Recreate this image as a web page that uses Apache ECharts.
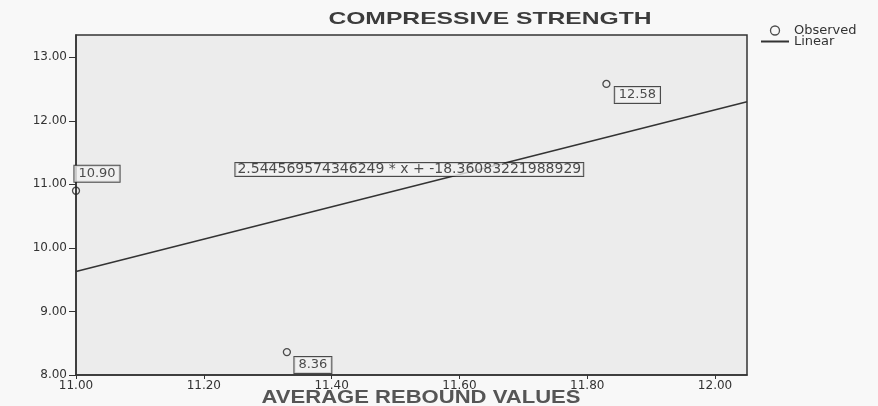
<!DOCTYPE html>
<html>
<head>
<meta charset="utf-8">
<script src="https://cdn.jsdelivr.net/npm/echarts@6/dist/echarts.min.js"></script>
<style>
html,body{margin:0;padding:0;background:#f8f8f8;}
#c{width:878px;height:406px;}
</style>
</head>
<body>
<div id="c"></div>
<script>
// Observed points
const obsX = [11.00, 11.33, 11.83];
const obsY = [10.90, 8.36, 12.58];
const obsLabels = ['10.90', '8.36', '12.58'];
// Linear fit line (endpoints)
const fitX = [11.00, 12.05];
const fitY = [9.63, 12.30];
// Equation annotation, anchored on the fit line
const equationX = [11.52];
const equationY = [10.95];
const equationText = '2.544569574346249 * x + -18.36083221988929';
// Texts and axis ticks
const chartTitle = 'COMPRESSIVE STRENGTH';
const xAxisTitle = 'AVERAGE REBOUND VALUES';
const xTicks = [11.00, 11.20, 11.40, 11.60, 11.80, 12.00];
const yTicks = [8, 9, 10, 11, 12, 13];

const FONT = 'DejaVu Sans, Arial, sans-serif';
const labelOffsets = [[21, -17], [26, 13], [31, 11]];
const boxLabel = {
  show: true,
  position: 'inside',
  fontFamily: FONT,
  fontSize: 13,
  lineHeight: 13,
  color: '#222',
  backgroundColor: '#f2f2f2',
  borderColor: '#222',
  borderWidth: 1,
  padding: [2, 4, 1, 4]
};

const obsData = obsX.map((x, i) => ({
  value: [x, obsY[i]],
  label: Object.assign({}, boxLabel, { formatter: obsLabels[i], offset: labelOffsets[i] })
}));
const fitData = fitX.map((x, i) => [x, fitY[i]]);
const eqData = equationX.map((x, i) => ({
  value: [x, equationY[i]],
  label: Object.assign({}, boxLabel, { formatter: equationText, fontSize: 14, lineHeight: 12, offset: [1, -18], padding: [1, 2, 0, 2] })
}));

const chart = echarts.init(document.getElementById('c'));
chart.setOption({
  animation: false,
  backgroundColor: '#f8f8f8',
  textStyle: { fontFamily: FONT },
  graphic: [
    {
      type: 'text', x: 490, y: 19, scaleX: 1.45,
      style: {
        text: chartTitle, fill: '#3c3c3c',
        font: 'bold 17px "Liberation Sans", Arial, sans-serif',
        textAlign: 'center', textVerticalAlign: 'middle', align: 'center', verticalAlign: 'middle'
      }
    },
    {
      type: 'text', x: 421, y: 398, scaleX: 1.26,
      style: {
        text: xAxisTitle, fill: '#555',
        font: 'bold 17.5px "Liberation Sans", Arial, sans-serif',
        textAlign: 'center', textVerticalAlign: 'middle', align: 'center', verticalAlign: 'middle'
      }
    }
  ],
  legend: {
    orient: 'vertical',
    left: 755, top: 19,
    itemGap: -2,
    itemWidth: 28, itemHeight: 9,
    textStyle: { fontSize: 13, color: '#333', fontFamily: FONT },
    data: [
      { name: 'Observed', icon: 'circle', itemStyle: { color: 'transparent', borderColor: '#222', borderWidth: 1.3 } },
      { name: 'Linear', itemStyle: { opacity: 0 } }
    ]
  },
  grid: {
    left: 76, right: 131, top: 35, bottom: 31,
    outerBoundsMode: 'none', containLabel: false,
    show: true, backgroundColor: '#ececec', borderColor: '#333', borderWidth: 1.5
  },
  xAxis: {
    type: 'value', min: 11, max: 12.05,
    axisLine: { show: true, lineStyle: { color: '#333', width: 1.5 } },
    axisTick: { show: true, length: 4, customValues: xTicks, lineStyle: { color: '#333' } },
    axisLabel: { customValues: xTicks, formatter: v => v.toFixed(2), fontSize: 12, color: '#333', margin: 5 },
    splitLine: { show: false }
  },
  yAxis: {
    type: 'value', min: 8, max: 13.35,
    axisLine: { show: true, lineStyle: { color: '#333', width: 1.5 } },
    axisTick: { show: true, length: 7, customValues: yTicks, lineStyle: { color: '#333' } },
    axisLabel: { customValues: yTicks, formatter: v => v.toFixed(2), fontSize: 12, color: '#333', margin: 9 },
    splitLine: { show: false }
  },
  series: [
    {
      name: 'Linear', type: 'line', data: fitData, symbol: 'none',
      lineStyle: { color: '#333', width: 1.5 }, itemStyle: { color: '#333' }, z: 2
    },
    {
      name: 'Observed', type: 'scatter', data: obsData, symbol: 'circle', symbolSize: 7,
      itemStyle: { color: 'transparent', borderColor: '#222', borderWidth: 1.3 }, z: 3
    },
    {
      name: 'Equation', type: 'scatter', data: eqData, symbolSize: 1,
      itemStyle: { color: 'transparent' }, z: 4, silent: true
    }
  ]
});
</script>
</body>
</html>
